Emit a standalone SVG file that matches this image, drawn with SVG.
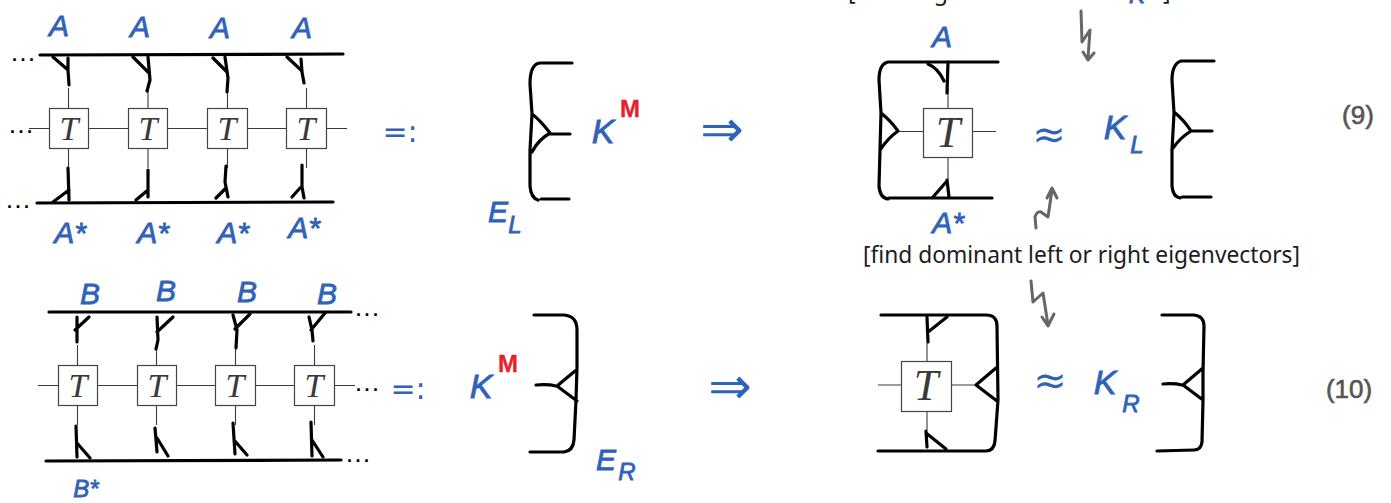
<svg xmlns="http://www.w3.org/2000/svg" width="1391" height="503" viewBox="0 0 1391 503">
<style>
.w{fill:none;stroke:#3a3a3a;stroke-width:1.1}
.i{fill:none;stroke:#000;stroke-width:3.2;stroke-linecap:round;stroke-linejoin:round}
.g{fill:none;stroke:#666;stroke-width:3;stroke-linecap:round;stroke-linejoin:round}
.b{fill:#fff;stroke:#444;stroke-width:1.2}
.t{font-family:"Liberation Serif",serif;font-style:italic;font-size:34px;fill:#3a3a3a;text-anchor:middle}
.tb{font-size:44px}
.h{font-family:"Liberation Sans",sans-serif;font-style:italic;font-size:30px;fill:#2f62b8;stroke:#2f62b8;stroke-width:.8;text-anchor:middle}
.k{font-size:34px}
.s{font-size:24px}
.r{fill:#e8202e;stroke:#e8202e;stroke-width:.3;font-size:24px;font-weight:bold;font-style:normal}
.d{font-family:"Liberation Sans",sans-serif;font-weight:bold;font-size:18px;fill:#000;letter-spacing:3.500px}
.n{font-family:"Liberation Sans",sans-serif;font-size:26px;fill:#555;stroke:#555;stroke-width:.6;text-anchor:middle}
.c{font-family:"Noto Sans",sans-serif;font-size:23px;fill:#1c1c1c}
.o{font-family:"DejaVu Sans",sans-serif;fill:#2f62b8;text-anchor:middle}
</style>
<g id="connectors">
<path class="w" d="M29 128.500H347M68.500 88V168M148 88V168M227.500 88V168M306.500 88V168"/>
<path class="w" d="M38 385.500H355M77.500 345V425M156.500 345V425M235.500 345V425M314.500 345V425"/>
<path class="w" d="M898 131.500H996M948 88V180"/>
<path class="w" d="M878 385H976M927 343V430"/>
<g class="i">
<path d="M40 55L343 54M37 203L333 202"/>
<path d="M53 57L68 70M68 58V70L69 85M133 57L148 72M148 57L150 80L147 91M213 58L227 72M225 57L228 78L227 92M287 57L302 71M301 59L302 72L304 83"/>
<path d="M68 168L69 200M53 202L69 190M148 170L148 197M136 200L148 190M226 166L225 182L228 197M216 198L226 188M302 165V187L304 198M292 197L300 188"/>
<path d="M49 312L351 312M46 461L341 460"/>
<path d="M89 317L75 330M77 317V342M173 317L157 332M157 317L158 340L156 349M250 314L235 329M233 315L237 330L236 348M325 313L311 330M309 317L312 330L313 341"/>
<path d="M76 426L77 457M77 443L90 458M155 428L157 452M157 438L168 456M233 423L235 454M234 440L247 455M311 422L312 456M312 440L323 457"/>
<path d="M948 62L947 93M928 64Q938 68 944 81M947 180L949 197M933 197L947 181"/>
<path d="M927 317L928 342M947 317L928 332M926 431L927 447M926 433L946 449"/>
</g>
<g class="g">
<path d="M1081 11L1082 42L1090 30L1088 58M1083 52L1088 60L1094 53"/>
<path d="M1036 228L1035 217Q1037 211 1041 212L1048 217L1052 190M1047 198L1052 188L1057 198"/>
<path d="M1031 281L1033 302L1043 293L1048 325M1042 317L1048 326L1054 314"/>
</g>
</g>
<g id="T1"><rect class="b" x="49.500" y="108.500" width="39" height="40"/><text class="t" x="69" y="140">T</text></g>
<g id="T2"><rect class="b" x="128.500" y="108.500" width="39" height="40"/><text class="t" x="148" y="140">T</text></g>
<g id="T3"><rect class="b" x="207.500" y="108.500" width="40" height="40"/><text class="t" x="227" y="140">T</text></g>
<g id="T4"><rect class="b" x="286.500" y="108.500" width="40" height="40"/><text class="t" x="306" y="140">T</text></g>
<g id="T5"><rect class="b" x="58.500" y="365.500" width="39" height="40"/><text class="t" x="78" y="397">T</text></g>
<g id="T6"><rect class="b" x="137.500" y="365.500" width="39" height="40"/><text class="t" x="157" y="397">T</text></g>
<g id="T7"><rect class="b" x="215.500" y="365.500" width="40" height="40"/><text class="t" x="235" y="397">T</text></g>
<g id="T8"><rect class="b" x="294.500" y="365.500" width="40" height="40"/><text class="t" x="314" y="397">T</text></g>
<g id="T9"><rect class="b" x="923.500" y="108.500" width="49" height="49"/><text class="t tb" x="948" y="147">T</text></g>
<g id="T10"><rect class="b" x="901.500" y="361.500" width="50" height="50"/><text class="t tb" x="926" y="400">T</text></g>
<g id="dots">
<text class="d" x="12" y="61">...</text><text class="d" x="10" y="133">...</text><text class="d" x="7" y="208">...</text>
<text class="d" x="356" y="316">...</text><text class="d" x="356" y="391">...</text><text class="d" x="347" y="462">...</text>
</g>
<g id="labels-A">
<text class="h" x="59" y="36">A</text><text class="h" x="140" y="37">A</text><text class="h" x="220" y="38">A</text><text class="h" x="302" y="38">A</text>
<text class="h" x="70" y="243">A*</text><text class="h" x="153" y="243">A*</text><text class="h" x="233" y="243">A*</text><text class="h" x="304" y="238">A*</text>
<text class="h" x="942" y="47">A</text><text class="h" x="948" y="233">A*</text>
</g>
<g id="labels-B">
<text class="h" x="90" y="304">B</text><text class="h" x="166" y="301">B</text><text class="h" x="247" y="302">B</text><text class="h" x="327" y="304">B</text>
<text class="h s" x="86" y="497">B*</text>
</g>
<g id="EL">
<path class="i" d="M572 63H540Q530 64 530 84L532 114L530 150V186Q531 198 538 200M541 199H569M532 114Q540 120 550 133Q538 140 532 152M550 134H570"/>
<text class="h" x="498" y="222">E</text><text class="h s" x="515" y="233">L</text>
<text class="h k" x="603" y="143">K</text><text class="h r" x="630" y="117">M</text>
</g>
<g id="ER">
<path class="i" d="M534 315H564Q577 316 577 330V367L576 400L574 440Q573 451 564 452H530M575 371L557 386L577 401M536 385Q548 384 556 386"/>
<text class="h" x="606" y="470">E</text><text class="h s" x="627" y="480">R</text>
<text class="h k" x="481" y="398">K</text><text class="h r" x="508" y="372">M</text>
</g>
<g id="FL">
<path class="i" d="M998 62H888Q879 64 879 80L881 113L880 150L879 186Q880 198 888 199M889 198H992M881 113Q890 120 898 131Q888 138 880 150"/>
</g>
<g id="FR">
<path class="i" d="M881 315H986Q997 315 997 326L998 400L995 441Q994 451 986 451H878M996 368L976 385L997 401"/>
</g>
<g id="KL">
<path class="i" d="M1214 61H1181Q1172 64 1172 80L1174 113L1172 150V186Q1173 197 1180 198M1182 197H1211M1174 112Q1184 120 1191 131Q1180 138 1173 148M1191 131H1212"/>
<text class="h k" x="1115" y="139">K</text><text class="h s" x="1137" y="153">L</text>
</g>
<g id="KR">
<path class="i" d="M1162 315H1194Q1204 316 1204 326L1203 373V400L1202 442Q1201 450 1194 450L1157 451M1203 368L1183 385L1203 400M1163 384Q1174 383 1182 385"/>
<text class="h k" x="1105" y="394">K</text><text class="h s" x="1131" y="412">R</text>
</g>
<g id="symbols">
<text class="o" x="400" y="142" font-size="30">=:</text>
<text class="o" x="408" y="399" font-size="30">=:</text>
<text class="o" x="722" y="147" font-size="52">⇒</text>
<text class="o" x="730" y="404" font-size="52">⇒</text>
<text class="o" x="1049" y="148" font-size="40">≈</text>
<text class="o" x="1050" y="394" font-size="40">≈</text>
</g>
<g id="notes">
<text class="c" x="848" y="0" textLength="100" lengthAdjust="spacingAndGlyphs">[iterating</text>
<text class="c" x="962" y="0" textLength="145" lengthAdjust="spacingAndGlyphs">these vectors</text>
<text class="h" x="1137" y="3" style="font-size:24px">K</text>
<text class="c" x="1163" y="0">]</text>
<text class="c" x="863" y="263" textLength="437" lengthAdjust="spacingAndGlyphs">[find dominant left or right eigenvectors]</text>
<text class="n" x="1358" y="124">(9)</text>
<text class="n" x="1349" y="398">(10)</text>
</g>
</svg>
